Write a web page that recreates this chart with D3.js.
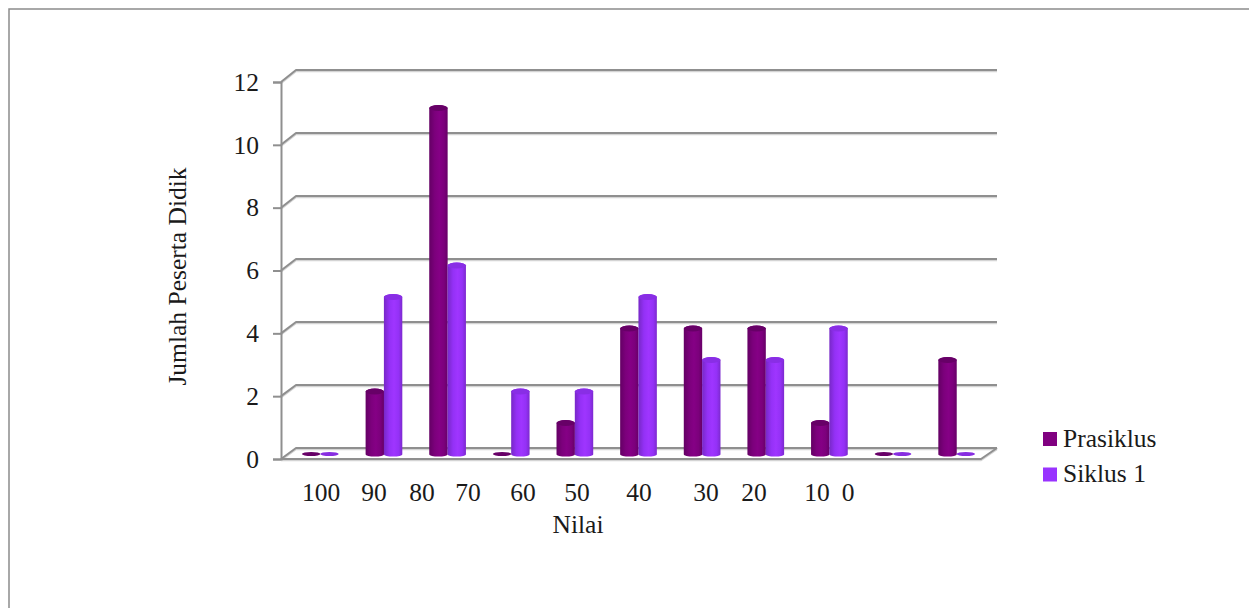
<!DOCTYPE html>
<html>
<head>
<meta charset="utf-8">
<script src="https://cdn.jsdelivr.net/npm/d3@7"></script>
<style>
html,body{margin:0;padding:0;background:#fff}
svg{display:block}
text{font-family:"Liberation Serif",serif;fill:#1a1a1a}
</style>
</head>
<body>
<svg id="chart" width="1249" height="608"></svg>
<script>
// Score bands and pupil counts per cycle
const categories = ["100","90","80","70","60","50","40","30","20","10","0"];
const prasiklus  = [0,2,11,0,1,4,4,4,1,0,3];
const siklus1    = [0,5,6,2,2,5,3,3,4,0,0];
const seriesNames = ["Prasiklus","Siklus 1"];
const seriesColors = ["#800080","#9933FF"];
const yTicks = [0,2,4,6,8,10,12];

// The score labels sit on a hand-spaced line, independent of the bar groups
const labelCenters = [321,374,422,468,523,577,639,706,754,817,848];

const svg = d3.select("#chart");
const FS = 25.5;

// Outer frame, open at the right and bottom edges
svg.append("path").attr("d","M9,608V9H1249").attr("fill","none").attr("stroke","#8c8c8c").attr("stroke-width",1.5);

// Front and back planes of the 3D box
const yFront = d3.scaleLinear().domain([0,12]).range([459,82]);
const yBack  = d3.scaleLinear().domain([0,12]).range([448,70]);
const yBar   = d3.scaleLinear().domain([0,12]).range([454.5,76.5]);
const xFrontL = 281, xBackL = 296, xBackR = 997, xFrontR = 981;

const x = d3.scaleBand().domain(categories).range([288.5,988.5]);
const xs = d3.scaleBand().domain(seriesNames).range([x.bandwidth()/2-18.3, x.bandwidth()/2+18.3]);
const barW = 18.4, ry = 3, ryBase = 2;

const grid = svg.append("g").attr("fill","none");
function gridLine(d, stroke, w){
  grid.append("path").attr("d",d).attr("stroke",stroke).attr("stroke-width",w).attr("stroke-linejoin","round");
}
const shadow = "#d4d4d4", lineCol = "#8f8f8f";

yTicks.forEach(t=>{
  const p = `M${xFrontL},${yFront(t)}L${xBackL},${yBack(t)}H${xBackR}`;
  gridLine(`M${xFrontL},${yFront(t)+1.2}L${xBackL},${yBack(t)+1.2}H${xBackR}`, shadow, 2);
  gridLine(p, lineCol, 2);
});
// Floor outline
gridLine(`M${xFrontL},${yFront(0)+1.2}H${xFrontR}L${xBackR},${yBack(0)+1.2}`, shadow, 2);
gridLine(`M${xFrontL},${yFront(0)}H${xFrontR}L${xBackR},${yBack(0)}`, lineCol, 2);

// Front vertical axis with ticks and labels
const axis = svg.append("g").attr("transform",`translate(${xFrontL},0)`)
  .call(d3.axisLeft(yFront).tickValues(yTicks).tickSize(8).tickPadding(14));
axis.selectAll("path,line").attr("stroke",lineCol).attr("stroke-width",2);
axis.selectAll("text").style("font-family",'"Liberation Serif",serif').style("font-size",FS+"px").attr("fill","#1a1a1a");

// Cylinder shading, dark at the edges and brightest left of centre
const defs = svg.append("defs");
function shade(id, color){
  const c = d3.color(color);
  const g = defs.append("linearGradient").attr("id",id);
  [[0,c.darker(0.7)],[0.3,c.darker(0.1)],[0.55,c.brighter(0.1)],[0.8,c.darker(0.1)],[1,c.darker(0.6)]]
    .forEach(([o,col])=>g.append("stop").attr("offset",o).attr("stop-color",col.formatHex()));
}
shade("g0",seriesColors[0]); shade("g1",seriesColors[1]);

// Draw the cylinders; zero counts collapse to a flat disc
const rows = categories.map((c,i)=>[
  {cat:c,name:seriesNames[0],value:prasiklus[i],s:0},
  {cat:c,name:seriesNames[1],value:siklus1[i],s:1}
]).flat();

const barsG = svg.append("g");
rows.forEach(d=>{
  const cx = x(d.cat)+xs(d.name)+xs.bandwidth()/2;
  const top = yBar(d.value), base = yBar(0), rx = barW/2;
  const c = d3.color(seriesColors[d.s]);
  if(d.value===0){
    barsG.append("ellipse").attr("cx",cx).attr("cy",base-0.5).attr("rx",rx).attr("ry",ryBase)
      .attr("fill",c.darker(d.s?0.35:0.6).formatHex());
    return;
  }
  barsG.append("path")
    .attr("d",`M${cx-rx},${top}V${base}A${rx},${ryBase} 0 0 0 ${cx+rx},${base}V${top}A${rx},${ry} 0 0 0 ${cx-rx},${top}Z`)
    .attr("fill",`url(#g${d.s})`);
  barsG.append("ellipse").attr("cx",cx).attr("cy",top).attr("rx",rx).attr("ry",ry)
    .attr("fill",c.darker(d.s?0.3:0.6).formatHex());
});

// Score labels under the floor
svg.append("g").selectAll("text").data(categories).join("text")
  .attr("x",(d,i)=>labelCenters[i]).attr("y",501)
  .attr("text-anchor","middle").style("font-size",FS+"px").text(d=>d);

// Axis titles
svg.append("text").attr("x",578).attr("y",533).attr("text-anchor","middle").style("font-size",FS+"px").text("Nilai");
svg.append("text").attr("transform","translate(186,276.5) rotate(-90)").attr("text-anchor","middle").style("font-size",FS+"px").text("Jumlah Peserta Didik");

// Legend
const legend = svg.append("g").selectAll("g").data(seriesNames).join("g")
  .attr("transform",(d,i)=>`translate(1043,${432+i*35.5})`);
legend.append("rect").attr("width",14).attr("height",14).attr("fill",(d,i)=>seriesColors[i]);
legend.append("text").attr("x",20).attr("y",14.5).style("font-size",FS+"px").text(d=>d);
</script>
</body>
</html>
